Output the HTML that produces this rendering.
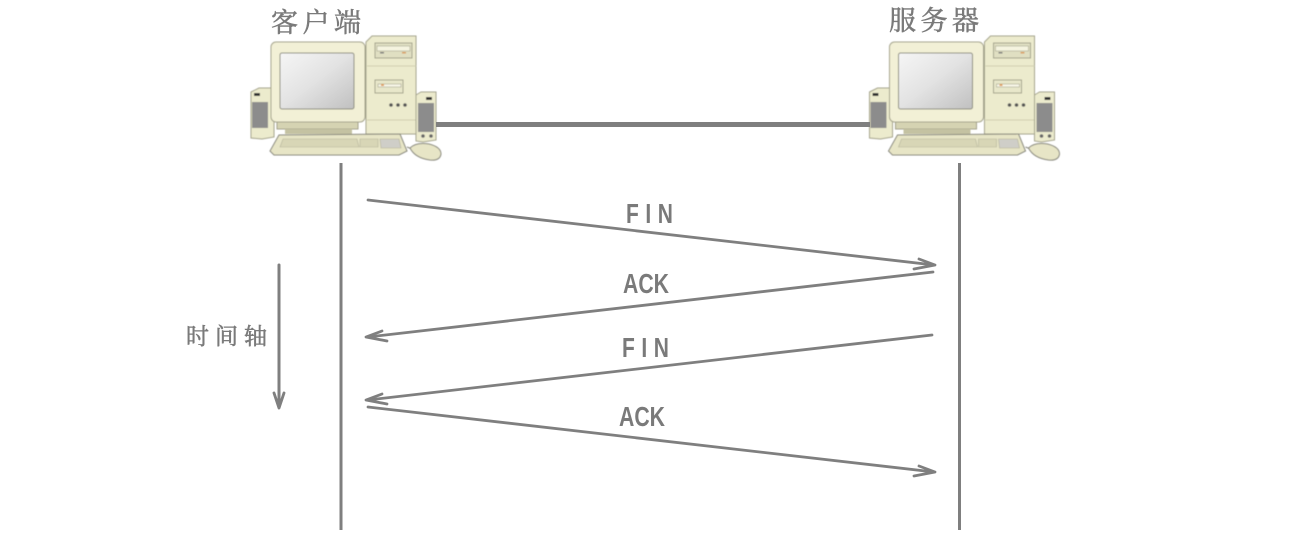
<!DOCTYPE html>
<html>
<head>
<meta charset="utf-8">
<style>
html,body{margin:0;padding:0;background:#fff;}
svg{display:block;}
.cjk{font-family:"Noto Serif CJK SC","Liberation Serif",serif;fill:#7a7a7a;stroke:#7a7a7a;stroke-width:.55;}
.lat{font-family:"Liberation Sans",sans-serif;fill:#7a7a7a;font-size:28px;font-weight:700;}
</style>
</head>
<body>
<svg width="1300" height="544" viewBox="0 0 1300 544" xmlns="http://www.w3.org/2000/svg">
<defs>
<filter id="soft" x="-5%" y="-5%" width="110%" height="110%"><feGaussianBlur stdDeviation="0.45"/></filter>
<linearGradient id="scr" x1="0" y1="0" x2="1" y2="1">
<stop offset="0" stop-color="#f6f6f6"/><stop offset="0.5" stop-color="#e2e2e2"/><stop offset="1" stop-color="#c0c0c0"/>
</linearGradient>
<g id="pc" filter="url(#soft)">
<!-- left speaker -->
<path d="M251 92 L259 88 L274 88 L274 137 L262 139 L251 138Z" fill="#ecebcd" stroke="#a3a28a"/>
<rect x="252" y="102" width="16" height="26" fill="#8c8c8c"/>
<rect x="254" y="93" width="6" height="3" fill="#333"/>
<!-- tower -->
<path d="M366 42 L372 36 L416 36 L416 134 L366 134Z" fill="#ecebcd" stroke="#a3a28a"/>
<rect x="375" y="43" width="37" height="15" fill="#e0dfc2" stroke="#a3a28a"/>
<rect x="377" y="46" width="33" height="5" fill="#f5f4e0" stroke="#a5a48a" stroke-width=".6"/>
<rect x="380" y="52" width="4" height="1.500" fill="#777"/><rect x="402" y="52" width="4" height="1.500" fill="#d99a55"/>
<rect x="375" y="80" width="28" height="13" fill="#e8e7ca" stroke="#a3a28a"/>
<rect x="378" y="84" width="23" height="3" fill="#f8f7e8" stroke="#a5a48a" stroke-width=".6"/>
<rect x="381" y="84" width="3" height="2" fill="#e0a060"/>
<circle cx="391" cy="105" r="1.800" fill="#555"/><circle cx="398" cy="105" r="1.800" fill="#555"/><circle cx="405" cy="105" r="1.800" fill="#555"/>
<path d="M367 66H416M367 120H416" stroke="#cfcfb0" fill="none"/>
<!-- right speaker -->
<path d="M416 95 L421 92 L436 92 L436 140 L423 142 L416 141Z" fill="#ecebcd" stroke="#a3a28a"/>
<rect x="418" y="103" width="16" height="29" fill="#8c8c8c"/>
<rect x="426" y="97" width="6" height="3" fill="#333"/>
<circle cx="423" cy="136" r="1.800" fill="#666"/><circle cx="431" cy="136" r="1.800" fill="#666"/>
<!-- monitor -->
<rect x="277" y="120" width="81" height="9" fill="#d5d3b2" stroke="#a3a28a"/>
<rect x="285" y="129" width="67" height="5" fill="#c4c2a2"/>
<rect x="271" y="42" width="94" height="80" rx="5" fill="#f2f0d6" stroke="#a3a28a"/>
<rect x="280" y="53" width="74" height="56" rx="2" fill="url(#scr)" stroke="#8a8a7c"/>
<!-- keyboard -->
<path d="M279 135 L400 134 L407 151 L399 155 L274 155 L270 151Z" fill="#e7e5c6" stroke="#85857a"/>
<path d="M283 139 H357 L359 147 H280Z" fill="#d8d6b6" stroke="#b3b298" stroke-width=".6"/>
<path d="M360 139 H378 V147 H360Z" fill="#d8d6b6" stroke="#b3b298" stroke-width=".6"/>
<path d="M380 139 H399 L401 148 H381Z" fill="#cfcec8" stroke="#b3b298" stroke-width=".6"/>
<!-- mouse -->
<path d="M407 147 L412 149" stroke="#85857a" fill="none"/>
<path d="M410 148 Q416 142 429 144 Q441 147 441 154 Q440 161 430 160 Q415 158 410 148Z" fill="#e7e5c6" stroke="#85857a"/>
</g>
</defs>

<use href="#pc"/>
<use href="#pc" x="618.500"/>

<line x1="436" y1="124.500" x2="870" y2="124.500" stroke="#7f7f7f" stroke-width="5"/>
<line x1="341" y1="163" x2="341" y2="530" stroke="#7f7f7f" stroke-width="3"/>
<line x1="959.500" y1="163" x2="959.500" y2="530" stroke="#7f7f7f" stroke-width="3"/>

<g stroke="#7f7f7f" stroke-width="2.800" fill="none" stroke-linejoin="round" stroke-linecap="round">
<line x1="368" y1="200" x2="934" y2="265"/>
<path d="M919 259 L935 265 L914 269"/>
<line x1="933" y1="272" x2="368" y2="337"/>
<path d="M382 331 L366 337 L387 341"/>
<line x1="932" y1="335" x2="368" y2="400"/>
<path d="M382 394 L366 400 L387 404"/>
<line x1="368" y1="407" x2="934" y2="472"/>
<path d="M919 466 L935 472 L914 476"/>
<line x1="279" y1="265" x2="279" y2="406" stroke-width="3"/>
<path d="M274 393 L279 408 L284 393"/>
</g>

<text class="cjk" x="271" y="32" font-size="27" letter-spacing="4.500">客户端</text>
<text class="cjk" x="889" y="30" font-size="27" letter-spacing="4.500">服务器</text>
<text class="cjk" x="186" y="344" font-size="23" letter-spacing="6">时间轴</text>

<text class="lat" transform="translate(626 223) scale(.75 1)" letter-spacing="8.700">FIN</text>
<text class="lat" x="623" y="293" textLength="46" lengthAdjust="spacingAndGlyphs">ACK</text>
<text class="lat" transform="translate(622 357) scale(.75 1)" letter-spacing="8.700">FIN</text>
<text class="lat" x="619" y="426" textLength="46" lengthAdjust="spacingAndGlyphs">ACK</text>
</svg>
</body>
</html>
